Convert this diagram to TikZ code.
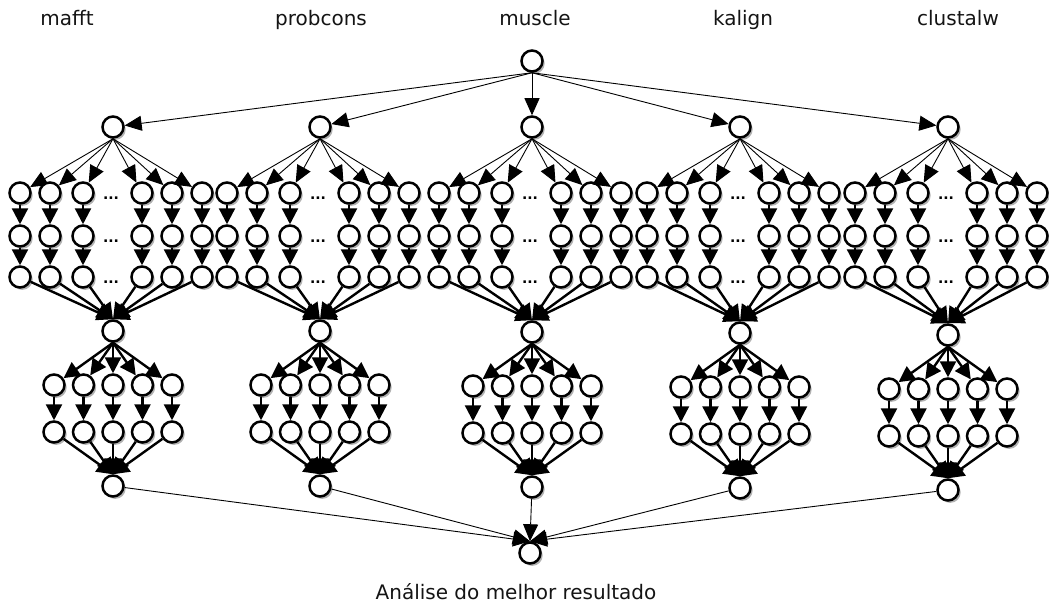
\documentclass[tikz,border=0pt]{standalone}
\usepackage{fontspec}
\setmainfont{DejaVu Sans}
\usetikzlibrary{arrows.meta,shadows}

\tikzset{
  nd/.style={circle,draw=black,fill=white,line width=2.5pt,minimum size=21pt,inner sep=0pt,
    drop shadow={shadow xshift=2.2pt,shadow yshift=-2.4pt,fill=black,opacity=0.3}},
  thinarr/.style={line width=0.9pt,-{Triangle[length=17pt,width=15pt]}},
  thickarr/.style={line width=2.4pt,-{Triangle[length=16pt,width=16pt]}},
  lbl/.style={font=\fontsize{20}{24}\selectfont,text=black!92,inner sep=0pt,anchor=base},
  ell/.style={font=\fontsize{14}{16}\selectfont\bfseries,inner sep=0pt}
}

\begin{document}
\begin{tikzpicture}[x=1pt,y=-1pt]
  \useasboundingbox (0,0) rectangle (1049,607);

  % tool names
  \node[lbl] (t1) at (67,26) {mafft};
  \node[lbl] (t2) at (321,26) {probcons};
  \node[lbl] (t3) at (535,26) {muscle};
  \node[lbl] (t4) at (743,26) {kalign};
  \node[lbl] (t5) at (958,26) {clustalw};

  % root and final nodes
  \node[nd] (top) at (532,61) {};
  \node[nd] (fin) at (530,553) {};
  \node[lbl] (res) at (516,599) {Análise do melhor resultado};

  \foreach \b/\X/\M in {1/113/331, 2/320/331, 3/532/332, 4/740/333, 5/948/335} {
    % one branch per aligner
    \node[nd] (L\b) at (\X,127) {};
    \draw[thinarr] (top.south) -- (L\b);

    % merge node and bottom node of the branch
    \node[nd] (M\b) at (\X,\M) {};
    \node[nd] (B\b) at (\X,\M+155) {};
    \draw[thinarr] (B\b) -- (fin.north);

    % parallel chains of three runs
    \foreach \c/\dx in {1/-93,2/-63,3/-30,4/29,5/59,6/89} {
      \node[nd] (C\b-\c-1) at (\X+\dx,193) {};
      \node[nd] (C\b-\c-2) at (\X+\dx,236) {};
      \node[nd] (C\b-\c-3) at (\X+\dx,277) {};
      \draw[thinarr] (L\b.south) -- (C\b-\c-1);
      \draw[thickarr] (C\b-\c-1) -- (C\b-\c-2);
      \draw[thickarr] (C\b-\c-2) -- (C\b-\c-3);
      \draw[thickarr] (C\b-\c-3) -- (M\b.north);
    }
    \node[ell] (D\b-1) at (\X-2,198) {...};
    \node[ell] (D\b-2) at (\X-2,241) {...};
    \node[ell] (D\b-3) at (\X-2,282) {...};

    % second stage: five two-step chains
    \foreach \r/\dx in {1/-59,2/-29.5,3/0,4/29.5,5/59} {
      \node[nd] (R\b-\r-1) at (\X+\dx,\M+54) {};
      \node[nd] (R\b-\r-2) at (\X+\dx,\M+101) {};
      \draw[thickarr] (M\b.south) -- (R\b-\r-1);
      \draw[thickarr] (R\b-\r-1) -- (R\b-\r-2);
      \draw[thickarr] (R\b-\r-2) -- (B\b.north);
    }
  }
\end{tikzpicture}
\end{document}
